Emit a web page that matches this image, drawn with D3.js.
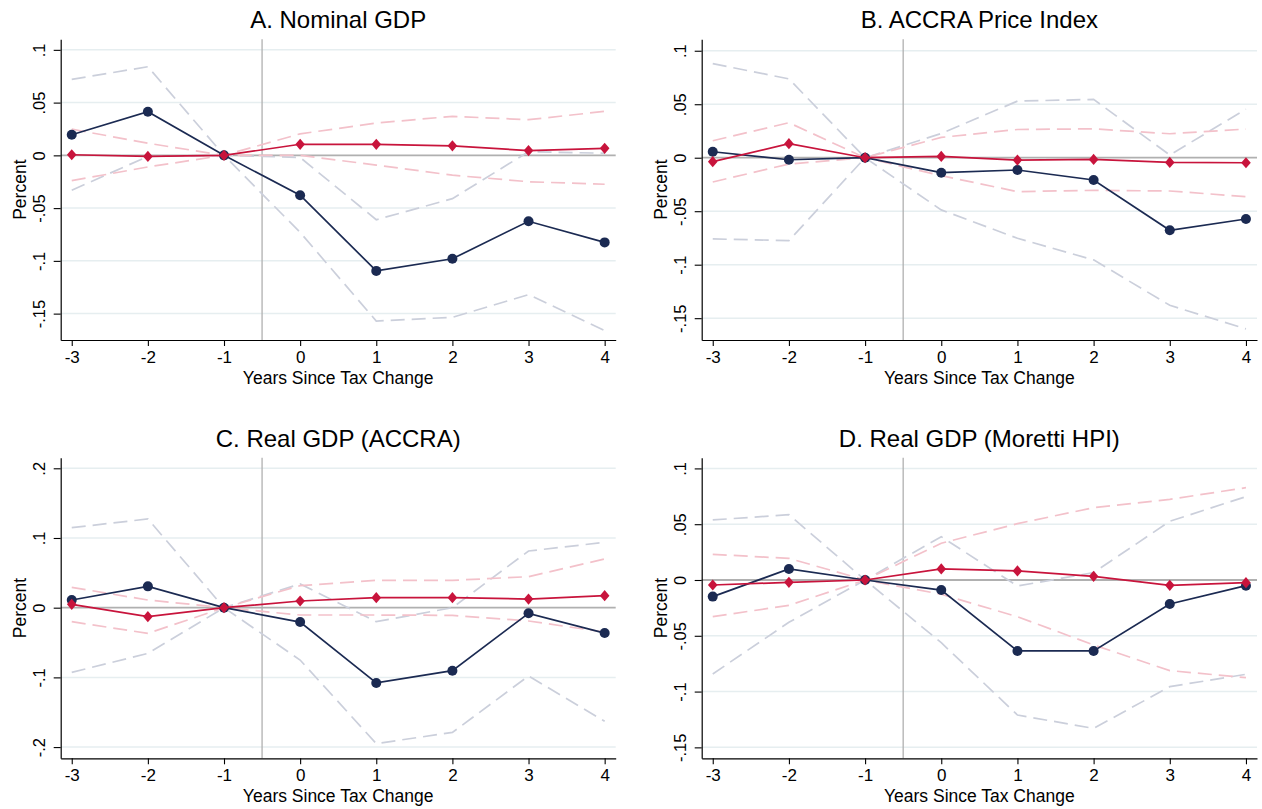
<!DOCTYPE html>
<html>
<head>
<meta charset="utf-8">
<script src="https://cdn.jsdelivr.net/npm/d3@7"></script>
<style>
  body { margin: 0; background: #fff; }
  svg { display: block; font-family: "Liberation Sans", Arial, Helvetica, sans-serif; }
</style>
</head>
<body>
<svg id="chart" width="1262" height="809"></svg>
<script>
// Event-time axis
const years = [-3, -2, -1, 0, 1, 2, 3, 4];
const xTickLabels = ["-3", "-2", "-1", "0", "1", "2", "3", "4"];
const xTitle = "Years Since Tax Change";
const yTitle = "Percent";
const eventLine = -0.5;

const panelTitles = [
  "A. Nominal GDP",
  "B. ACCRA Price Index",
  "C. Real GDP (ACCRA)",
  "D. Real GDP (Moretti HPI)"
];

// Y tick values and their printed labels
const yTicksNarrow = [0.1, 0.05, 0, -0.05, -0.1, -0.15];
const yTickLabelsNarrow = [".1", ".05", "0", "-.05", "-.1", "-.15"];
const yTicksWide = [0.2, 0.1, 0, -0.1, -0.2];
const yTickLabelsWide = [".2", ".1", "0", "-.1", "-.2"];

// A. Nominal GDP — navy estimate with CI, red estimate with CI
const nomGdpEst  = [0.0195, 0.0413, 0, -0.0378, -0.1095, -0.0980, -0.0625, -0.0825];
const nomGdpHi   = [0.072, 0.084, 0, -0.002, -0.061, -0.041, 0.0035, 0.002];
const nomGdpLo   = [-0.033, -0.001, 0, -0.073, -0.157, -0.1535, -0.132, -0.166];
const nomGdpEst2 = [0.0006, -0.001, 0, 0.0105, 0.0105, 0.009, 0.0045, 0.0067];
const nomGdpHi2  = [0.0248, 0.0115, 0, 0.0204, 0.0306, 0.037, 0.0338, 0.0417];
const nomGdpLo2  = [-0.024, -0.011, 0, 0, -0.0092, -0.0188, -0.025, -0.0274];

// B. ACCRA Price Index
const accraEst  = [0.0056, -0.0019, 0, -0.014, -0.0115, -0.0208, -0.0678, -0.0573];
const accraHi   = [0.088, 0.0737, 0, 0.0227, 0.0529, 0.0545, 0.0025, 0.0454];
const accraLo   = [-0.0759, -0.0775, 0, -0.0488, -0.0753, -0.0955, -0.138, -0.160];
const accraEst2 = [-0.0037, 0.0131, 0, 0.0012, -0.0022, -0.0016, -0.0044, -0.0047];
const accraHi2  = [0.0159, 0.0327, 0, 0.019, 0.0264, 0.027, 0.0224, 0.0268];
const accraLo2  = [-0.0227, -0.0059, 0, -0.0168, -0.0317, -0.0305, -0.0311, -0.0364];

// C. Real GDP (ACCRA)
const realAccraEst  = [0.011, 0.0306, 0, -0.0206, -0.108, -0.0904, -0.0081, -0.0364];
const realAccraHi   = [0.1148, 0.1273, 0, 0.034, -0.0201, 0, 0.0813, 0.0938];
const realAccraLo   = [-0.0928, -0.0656, 0, -0.0751, -0.195, -0.179, -0.098, -0.163];
const realAccraEst2 = [0.0048, -0.0129, 0, 0.0096, 0.0144, 0.0144, 0.0124, 0.0172];
const realAccraHi2  = [0.0292, 0.011, 0, 0.0316, 0.0392, 0.0392, 0.0445, 0.0699];
const realAccraLo2  = [-0.0201, -0.0368, 0, -0.0105, -0.0105, -0.011, -0.0191, -0.035];

// D. Real GDP (Moretti HPI)
const realHpiEst  = [-0.0149, 0.0099, 0, -0.009, -0.0636, -0.0636, -0.0215, -0.0051];
const realHpiHi   = [0.0538, 0.0585, 0, 0.0388, -0.0054, 0.0066, 0.0526, 0.0747];
const realHpiLo   = [-0.0842, -0.0379, 0, -0.0562, -0.121, -0.133, -0.0956, -0.0845];
const realHpiEst2 = [-0.0045, -0.0021, 0, 0.0099, 0.0081, 0.0033, -0.0048, -0.0024];
const realHpiHi2  = [0.023, 0.0194, 0, 0.0329, 0.0505, 0.0648, 0.0723, 0.0827];
const realHpiLo2  = [-0.0329, -0.0227, 0, -0.0128, -0.0329, -0.0582, -0.0812, -0.0875];

// Colours and line styles
const NAVY = "#1b2a52";
const RED = "#c8143c";
const NAVY_CI = "#cbcfdb";
const RED_CI = "#f3c1ca";
const GRID = "#e6eef0";
const REF = "#b0b0b0";

// Panel layout (plot-region boxes in pixels) and y ranges
const panels = [
  { title: panelTitles[0], ticks: yTicksNarrow, tickLabels: yTickLabelsNarrow,
    est: nomGdpEst, hi: nomGdpHi, lo: nomGdpLo, est2: nomGdpEst2, hi2: nomGdpHi2, lo2: nomGdpLo2,
    box: { l: 60.7, r: 615.7, t: 39.3, b: 340 }, yDomain: [-0.175, 0.110] },
  { title: panelTitles[1], ticks: yTicksNarrow, tickLabels: yTickLabelsNarrow,
    est: accraEst, hi: accraHi, lo: accraLo, est2: accraEst2, hi2: accraHi2, lo2: accraLo2,
    box: { l: 701.7, r: 1257, t: 39.3, b: 340 }, yDomain: [-0.1704, 0.1107] },
  { title: panelTitles[2], ticks: yTicksWide, tickLabels: yTickLabelsWide,
    est: realAccraEst, hi: realAccraHi, lo: realAccraLo, est2: realAccraEst2, hi2: realAccraHi2, lo2: realAccraLo2,
    box: { l: 60.7, r: 615.7, t: 457.7, b: 758.3 }, yDomain: [-0.2161, 0.2152] },
  { title: panelTitles[3], ticks: yTicksNarrow, tickLabels: yTickLabelsNarrow,
    est: realHpiEst, hi: realHpiHi, lo: realHpiLo, est2: realHpiEst2, hi2: realHpiHi2, lo2: realHpiLo2,
    box: { l: 701.7, r: 1257, t: 457.7, b: 758.3 }, yDomain: [-0.1598, 0.1096] }
];

const xDomain = [-3.145, 4.145];
const svg = d3.select("#chart");
const diamond = "M0,-5.6L4.8,0L0,5.6L-4.8,0Z";

panels.forEach(p => {
  const { box } = p;
  const g = svg.append("g");
  const x = d3.scaleLinear().domain(xDomain).range([box.l, box.r]);
  const y = d3.scaleLinear().domain(p.yDomain).range([box.b, box.t]);

  // horizontal gridlines
  g.append("g").selectAll("line")
    .data(p.ticks.filter(t => t !== 0))
    .join("line")
    .attr("x1", box.l).attr("x2", box.r)
    .attr("y1", d => y(d)).attr("y2", d => y(d))
    .attr("stroke", GRID).attr("stroke-width", 1.5);

  // zero reference and event-time line
  g.append("line")
    .attr("x1", box.l).attr("x2", box.r)
    .attr("y1", y(0)).attr("y2", y(0))
    .attr("stroke", REF).attr("stroke-width", 1.8);
  g.append("line")
    .attr("x1", x(eventLine)).attr("x2", x(eventLine))
    .attr("y1", box.t).attr("y2", box.b)
    .attr("stroke", REF).attr("stroke-width", 1.3);

  const line = d3.line().x((d, i) => x(years[i])).y(d => y(d));

  // confidence bands
  [[p.hi, NAVY_CI], [p.lo, NAVY_CI], [p.hi2, RED_CI], [p.lo2, RED_CI]].forEach(([vals, col]) => {
    g.append("path")
      .attr("d", line(vals))
      .attr("fill", "none")
      .attr("stroke", col)
      .attr("stroke-width", 1.7)
      .attr("stroke-dasharray", "14,7");
  });

  // navy estimates
  g.append("path")
    .attr("d", line(p.est))
    .attr("fill", "none").attr("stroke", NAVY).attr("stroke-width", 1.7);
  g.append("g").selectAll("circle")
    .data(p.est)
    .join("circle")
    .attr("cx", (d, i) => x(years[i]))
    .attr("cy", d => y(d))
    .attr("r", 5)
    .attr("fill", NAVY);

  // red estimates
  g.append("path")
    .attr("d", line(p.est2))
    .attr("fill", "none").attr("stroke", RED).attr("stroke-width", 1.7);
  g.append("g").selectAll("path")
    .data(p.est2)
    .join("path")
    .attr("d", diamond)
    .attr("transform", (d, i) => `translate(${x(years[i])},${y(d)})`)
    .attr("fill", RED);

  // y axis
  const yAxis = g.append("g")
    .attr("transform", `translate(${box.l},0)`)
    .call(d3.axisLeft(y).tickValues(p.ticks)
      .tickFormat((d, i) => p.tickLabels[i])
      .tickSize(7).tickSizeOuter(0));
  yAxis.select(".domain").attr("stroke", "#000").attr("stroke-width", 1.2);
  yAxis.selectAll(".tick line").attr("stroke", "#000").attr("stroke-width", 1.1);
  yAxis.selectAll(".tick text")
    .attr("x", 0).attr("y", 0).attr("dy", 0)
    .attr("text-anchor", "middle")
    .attr("transform", "translate(-15.5,0) rotate(-90)")
    .attr("fill", "#000")
    .style("font-size", "16.5px")
    .style("font-family", "'Liberation Sans', Arial, sans-serif");

  // x axis
  const xAxis = g.append("g")
    .attr("transform", `translate(0,${box.b})`)
    .call(d3.axisBottom(x).tickValues(years)
      .tickFormat((d, i) => xTickLabels[i])
      .tickSize(6).tickSizeOuter(0));
  xAxis.select(".domain").attr("stroke", "#000").attr("stroke-width", 1.2);
  xAxis.selectAll(".tick line").attr("stroke", "#000").attr("stroke-width", 1.1);
  xAxis.selectAll(".tick text")
    .attr("y", 23).attr("dy", 0)
    .attr("fill", "#000")
    .style("font-size", "17px")
    .style("font-family", "'Liberation Sans', Arial, sans-serif");

  // titles
  g.append("text")
    .attr("x", (box.l + box.r) / 2).attr("y", box.t - 11)
    .attr("text-anchor", "middle")
    .style("font-size", "24px")
    .text(p.title);
  g.append("text")
    .attr("x", (box.l + box.r) / 2).attr("y", box.b + 43.5)
    .attr("text-anchor", "middle")
    .style("font-size", "17.5px")
    .text(xTitle);
  g.append("text")
    .attr("transform", `translate(${box.l - 34.5},${(box.t + box.b) / 2}) rotate(-90)`)
    .attr("text-anchor", "middle")
    .style("font-size", "17.5px")
    .text(yTitle);
});
</script>
</body>
</html>
